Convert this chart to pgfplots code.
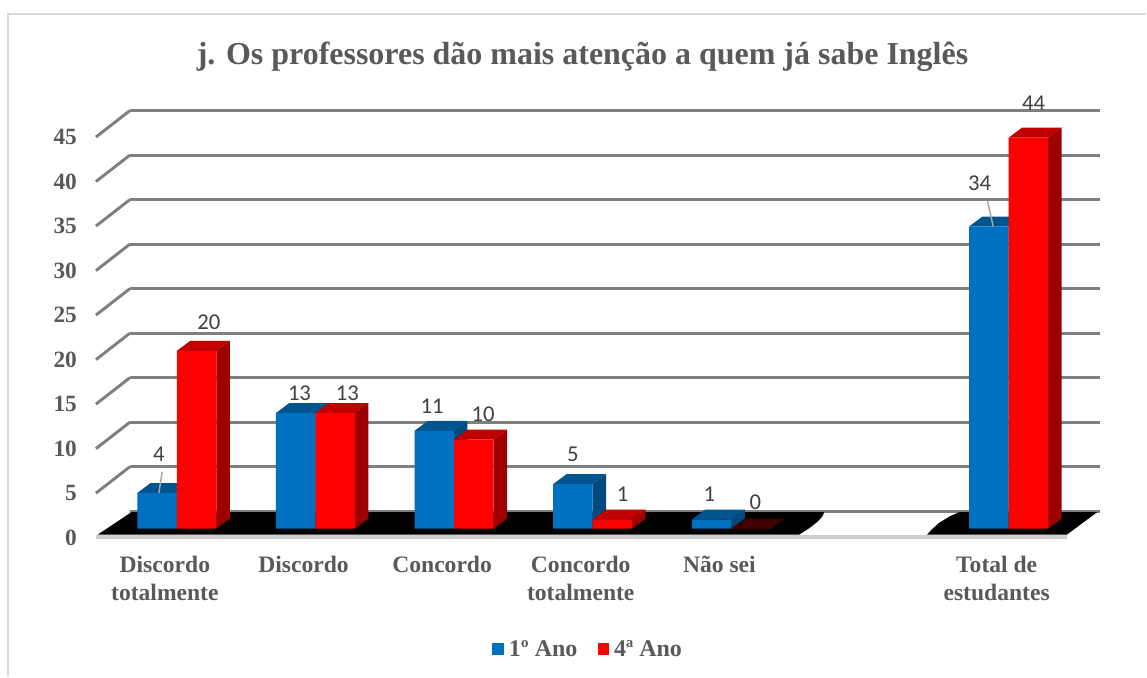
\documentclass[border=0pt]{standalone}
\usepackage{pgfplots}
\pgfplotsset{compat=1.18}
\usepackage{fontspec}
\setmainfont{Liberation Serif}
\newfontfamily\lab{Carlito}
\definecolor{blueF}{HTML}{0070C0}
\definecolor{blueT}{HTML}{00558F}
\definecolor{blueS}{HTML}{004A80}
\definecolor{redF}{HTML}{FF0000}
\definecolor{redT}{HTML}{C00000}
\definecolor{redS}{HTML}{9E0000}
\definecolor{zeroT}{HTML}{400000}
\definecolor{gridc}{HTML}{7F7F7F}
\definecolor{txt}{HTML}{595959}
\definecolor{lbl}{HTML}{404040}
\definecolor{framec}{HTML}{D9D9D9}
\newcommand{\faces}[4]{%
  \pgfmathsetmacro{\xl}{#1-0.1427}\pgfmathsetmacro{\xr}{#1+0.1427}%
  \pgfmathsetmacro{\xlb}{\xl+0.0965}\pgfmathsetmacro{\xrb}{\xr+0.0965}%
  \pgfmathsetmacro{\vb}{#2+1.122}%
  \edef\tmp{\noexpand\addplot[fill=#3,draw=none,forget plot] coordinates {(\xl,#2)(\xlb,\vb)(\xrb,\vb)(\xr,#2)} -- cycle;
  \noexpand\addplot[fill=#4,draw=none,forget plot] coordinates {(\xr,0)(\xrb,1.122)(\xrb,\vb)(\xr,#2)} -- cycle;}\tmp}
\begin{document}
\begin{tikzpicture}
\draw[framec,line width=1.5pt] (6pt,0pt) -- (6pt,497.25pt) -- (860.25pt,497.25pt);
% back walls: x in reference pixels, y in value units at the back plane
\begin{axis}[
  at={(97.5pt,123.975pt)},anchor=south west,scale only axis,
  width=728.25pt,height=300.75pt,
  xmin=130,xmax=1101,ymin=0,ymax=45,clip=false,
  xtick=\empty,ytick={0,5,...,45},
  axis line style={draw=none},tick style={draw=none},
  ymajorgrids,grid style={gridc,line width=2.2pt},
  /pgf/number format/assume math mode=true,
  yticklabel style={anchor=east,xshift=-36.3pt,yshift=-19.9pt,
    font=\fontsize{17.5pt}{20pt}\selectfont\bfseries,text=txt},
  unbounded coords=jump]
\addplot[gridc,line width=2.2pt,forget plot] coordinates {
 (96,2.03)(130,5)(96,nan)(96,7.03)(130,10)(96,nan)(96,12.03)(130,15)(96,nan)
 (96,17.03)(130,20)(96,nan)(96,22.03)(130,25)(96,nan)(96,27.03)(130,30)(96,nan)
 (96,32.03)(130,35)(96,nan)(96,37.03)(130,40)(96,nan)(96,42.03)(130,45)};
\addplot[fill=black,draw=none,forget plot] coordinates {(98,-2.615)(131.5,-0.11)(825,-0.11)(823,-0.6)(818,-1.2)(810,-1.9)(800,-2.615)} -- cycle;
\addplot[fill=black,draw=none,forget plot] coordinates {(928,-2.615)(932,-2.1)(940,-1.3)(950,-0.6)(960,-0.11)(1098,-0.11)(1068,-2.615)} -- cycle;
\addplot[color=framec!95!black,line width=2.4pt,forget plot] coordinates {(96,-2.9)(1068,-2.9)};
\end{axis}
% bars: full canvas, x = category index, y = value at the front plane
\begin{axis}[
  at={(0pt,0pt)},anchor=south west,scale only axis,
  width=860.25pt,height=507.75pt,
  xmin=-1.2757,xmax=6.991,ymin=-16.65,ymax=59.5,clip=false,
  axis line style={draw=none},tick style={draw=none},
  ytick=\empty,xtick={0,1,2,3,4,6},
  xticklabels={{Discordo\\totalmente},{Discordo},{Concordo},{Concordo\\totalmente},{Não sei},{Total de\\estudantes}},
  xticklabel style={align=center,anchor=north,xshift=-9pt,yshift=93.5pt,
    font=\fontsize{17.7pt}{20.6pt}\selectfont\bfseries,text=txt},
  /pgf/number format/assume math mode=true,
  title={j. Os professores dão mais atenção a quem já sabe Inglês},
  title style={at={(0.5083,0.904)},anchor=center,font=\fontsize{24pt}{28pt}\selectfont\bfseries,text=txt},
  legend image code/.code={\fill[#1] (0pt,-4.5pt) rectangle (9pt,4.5pt);},
  legend style={at={(0.5135,0.04)},anchor=center,draw=none,fill=none,legend columns=2,
    font=\fontsize{18pt}{20pt}\selectfont\bfseries,text=txt,
    /tikz/every odd column/.append style={column sep=1.5pt},
    /tikz/every even column/.append style={column sep=13pt}},
  barlab/.style={nodes near coords,
    visualization depends on={value \thisrow{dx} \as \dx},
    visualization depends on={value \thisrow{dy} \as \dy},
    every node near coord/.style={anchor=center,xshift=\dx*0.75pt,yshift=\dy*0.75pt,
      font=\fontsize{17pt}{18pt}\selectfont\lab,text=lbl}}
]
\faces{-0.1427}{4}{blueT}{blueS}
\faces{0.8573}{13}{blueT}{blueS}
\faces{1.8573}{11}{blueT}{blueS}
\faces{2.8573}{5}{blueT}{blueS}
\faces{3.8573}{1}{blueT}{blueS}
\faces{5.8573}{34}{blueT}{blueS}
\addplot[ybar,bar width=29.7pt,bar shift=-14.85pt,fill=blueF,draw=none,barlab] table[x=x,y=y]{
x y dx dy
0 4 -18 39
1 13 -16 20
2 11 -22 25
3 5 -20 29.5
4 1 -22 25
6 34 -29 43
};
\faces{0.1427}{20}{redT}{redS}
\faces{1.1427}{13}{redT}{redS}
\faces{2.1427}{10}{redT}{redS}
\faces{3.1427}{1}{redT}{redS}
\faces{4.1427}{0}{zeroT}{zeroT}
\faces{6.1427}{44}{redT}{redS}
\addplot[ybar,bar width=29.7pt,bar shift=14.85pt,fill=redF,draw=none,barlab] table[x=x,y=y]{
x y dx dy
0 20 32 29
1 13 32 20
2 10 29 25
3 1 30 25
4 0 24 26
6 44 25 34
};
\addplot[color=black!35,line width=1.1pt,forget plot] coordinates {(-0.1296,4.0)(-0.1058,6.4)};
\addplot[color=black!35,line width=1.1pt,forget plot] coordinates {(5.8884,34.0)(5.8474,36.9)};
\legend{1º Ano,4ª Ano}
\end{axis}
\end{tikzpicture}
\end{document}
